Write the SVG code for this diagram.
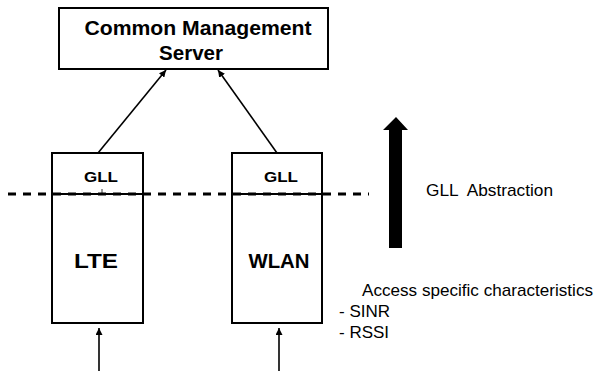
<svg xmlns="http://www.w3.org/2000/svg" width="597" height="371" viewBox="0 0 597 371">
<style>
.box{fill:#fff;stroke:#000;stroke-width:2}
.b{font-family:"Liberation Sans",Arial,sans-serif;font-weight:bold;fill:#000;text-anchor:middle}
.r{font-family:"Liberation Sans",Arial,sans-serif;fill:#000}
.ln{stroke:#000;stroke-width:1.6;fill:none}
</style>
<defs>
<marker id="ah" viewBox="0 0 10 10" refX="10" refY="5" markerWidth="7" markerHeight="7" markerUnits="userSpaceOnUse" orient="auto">
<path d="M0,0 L10,5 L0,10 z" fill="#000"/>
</marker>
</defs>
<g id="server">
<rect class="box" x="59" y="8" width="269" height="61"/>
<text class="b" x="198" y="35" font-size="20" textLength="227" lengthAdjust="spacingAndGlyphs">Common Management</text>
<text class="b" x="191" y="60" font-size="20" textLength="64" lengthAdjust="spacingAndGlyphs">Server</text>
</g>
<g id="lte">
<rect class="box" x="52" y="153" width="91" height="170"/>
<line x1="52" y1="194" x2="143" y2="194" stroke="#000" stroke-width="2"/>
<line x1="102" y1="189" x2="102" y2="194" stroke="#000" stroke-width="0.8"/>
<text class="b" x="101" y="182" font-size="15" textLength="34" lengthAdjust="spacingAndGlyphs">GLL</text>
<text class="b" x="96" y="268" font-size="21" textLength="44" lengthAdjust="spacingAndGlyphs">LTE</text>
</g>
<g id="wlan">
<rect class="box" x="232" y="153" width="90" height="170"/>
<line x1="232" y1="194" x2="322" y2="194" stroke="#000" stroke-width="2"/>
<text class="b" x="281" y="182" font-size="15" textLength="34" lengthAdjust="spacingAndGlyphs">GLL</text>
<text class="b" x="279" y="268" font-size="21" textLength="61" lengthAdjust="spacingAndGlyphs">WLAN</text>
</g>
<g id="abstraction">
<polygon points="389,248 402,248 402,130 408,130 396,117 383,130 389,130" fill="#000"/>
<text class="r" x="426" y="196" font-size="17" xml:space="preserve" textLength="127" lengthAdjust="spacingAndGlyphs">GLL  Abstraction</text>
</g>
<g id="access">
<text class="r" x="362" y="296" font-size="17" textLength="231" lengthAdjust="spacingAndGlyphs">Access specific characteristics</text>
<text class="r" x="339" y="317" font-size="17">- SINR</text>
<text class="r" x="339" y="338" font-size="17">- RSSI</text>
</g>
<g id="connectors">
<line x1="8" y1="194" x2="369" y2="194" stroke="#000" stroke-width="3" stroke-dasharray="8,7"/>
<line class="ln" x1="98" y1="153" x2="166" y2="70" marker-end="url(#ah)"/>
<line class="ln" x1="277" y1="153" x2="218" y2="70" marker-end="url(#ah)"/>
<line class="ln" x1="99" y1="371" x2="99" y2="328" marker-end="url(#ah)"/>
<line class="ln" x1="279" y1="371" x2="279" y2="328" marker-end="url(#ah)"/>
</g>
</svg>
